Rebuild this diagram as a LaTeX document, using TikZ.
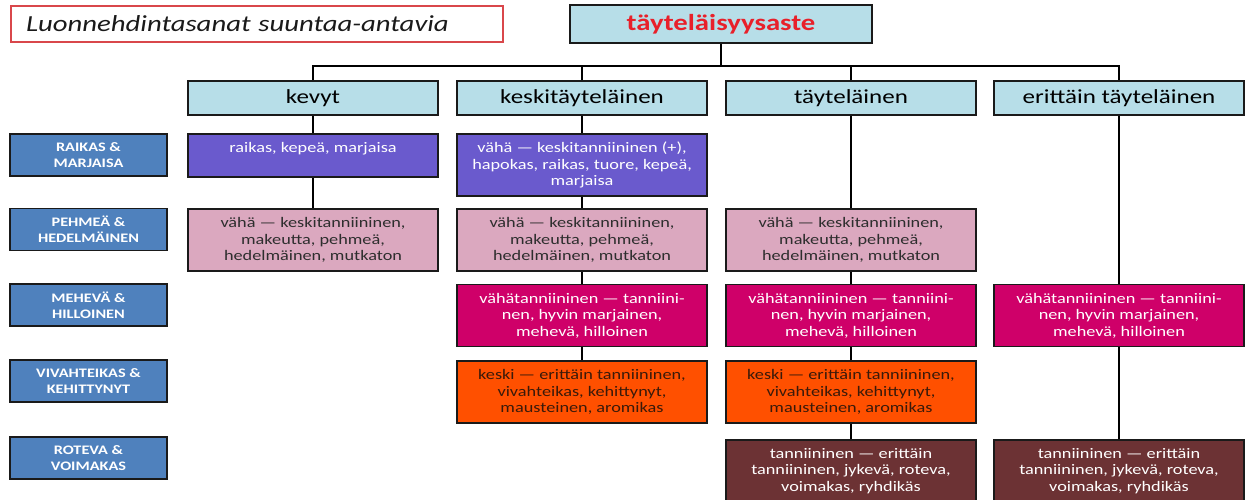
\documentclass[tikz,border=0pt]{standalone}
\usepackage{fontspec}
\setmainfont{Carlito}[FakeStretch=1.25]
\definecolor{hdrfill}{HTML}{B7DEE8}
\definecolor{boxline}{HTML}{1A1A1A}
\definecolor{cpurple}{HTML}{6A5ACD}
\definecolor{cpink}{HTML}{DBA8BF}
\definecolor{cmagenta}{HTML}{CF0069}
\definecolor{corange}{HTML}{FF5000}
\definecolor{cbrown}{HTML}{6C3234}
\definecolor{labblue}{HTML}{4F81BD}
\definecolor{rootred}{HTML}{E8202A}
\definecolor{titlered}{HTML}{D9474B}
\definecolor{darktxt}{HTML}{2E2E2E}
\definecolor{orangetxt}{HTML}{3A1A0A}
\tikzset{
  hdr/.style={draw=boxline, line width=1.6pt, fill=hdrfill, minimum width=250pt, minimum height=34pt, inner sep=0pt, font=\fontsize{20}{24}\selectfont},
  cell/.style={draw=boxline, line width=1.6pt, minimum width=250pt, minimum height=62pt, inner sep=0pt, align=center, font=\fontsize{14.6}{16.5}\selectfont},
  purplecell/.style={cell, fill=cpurple, text=white},
  pinkcell/.style={cell, fill=cpink, text=darktxt},
  magcell/.style={cell, fill=cmagenta, text=white},
  orangecell/.style={cell, fill=corange, text=orangetxt},
  browncell/.style={cell, fill=cbrown, text=white},
  lab/.style={draw=boxline, line width=1.6pt, fill=labblue, text=white, minimum width=157pt, minimum height=42pt, inner sep=0pt, align=center, font=\bfseries\fontsize{13}{16}\selectfont},
  conn/.style={line width=1.5pt, black},
}
\begin{document}
\begin{tikzpicture}[x=1pt, y=-1pt]
\useasboundingbox (0,0) rectangle (1249,499);
\clip (0,0) rectangle (1249,499);

% title
\node[draw=titlered, line width=1.1pt, minimum width=492pt, minimum height=36pt, text width=462pt, inner xsep=15pt, inner ysep=0pt, align=left, font=\itshape\fontsize{23}{27}\selectfont, text=boxline] (ttl) at (257,24) {Luonnehdintasanat suuntaa-antavia};

% root
\node[hdr, minimum width=302pt, minimum height=38pt, font=\bfseries\fontsize{23}{27}\selectfont, text=rootred] (root) at (721,24) {täyteläisyysaste};

\coordinate (bar) at (0,66);

% level 2
\node[hdr] (kevyt) at (313,98) {kevyt};
\node[hdr] (kesk) at (582,98) {keskitäyteläinen};
\node[hdr] (tayt) at (851,98) {täyteläinen};
\node[hdr] (erit) at (1119,98) {erittäin täyteläinen};

% row labels
\node[lab] (l1) at (88.5,155) {RAIKAS \&\\MARJAISA};
\node[lab] (l2) at (88.5,229.5) {PEHMEÄ \&\\HEDELMÄINEN};
\node[lab] (l3) at (88.5,305) {MEHEVÄ \&\\HILLOINEN};
\node[lab] (l4) at (88.5,381) {VIVAHTEIKAS \&\\KEHITTYNYT};
\node[lab] (l5) at (88.5,458) {ROTEVA \&\\VOIMAKAS};

% cells
\node[purplecell, minimum height=43pt] (c1r1) at (313,155.5) {raikas, kepeä, marjaisa\\\mbox{}};
\node[purplecell] (c2r1) at (582,165) {vähä — keskitanniininen (+),\\hapokas, raikas, tuore, kepeä,\\marjaisa};

\node[pinkcell] (c1r2) at (313,240) {vähä — keskitanniininen,\\makeutta, pehmeä,\\hedelmäinen, mutkaton};
\node[pinkcell] (c2r2) at (582,240) {vähä — keskitanniininen,\\makeutta, pehmeä,\\hedelmäinen, mutkaton};
\node[pinkcell] (c3r2) at (851,240) {vähä — keskitanniininen,\\makeutta, pehmeä,\\hedelmäinen, mutkaton};

\node[magcell] (c2r3) at (582,315.5) {vähätanniininen — tanniini-\\nen, hyvin marjainen,\\mehevä, hilloinen};
\node[magcell] (c3r3) at (851,315.5) {vähätanniininen — tanniini-\\nen, hyvin marjainen,\\mehevä, hilloinen};
\node[magcell] (c4r3) at (1119,315.5) {vähätanniininen — tanniini-\\nen, hyvin marjainen,\\mehevä, hilloinen};

\node[orangecell] (c2r4) at (582,392) {keski — erittäin tanniininen,\\vivahteikas, kehittynyt,\\mausteinen, aromikas};
\node[orangecell] (c3r4) at (851,392) {keski — erittäin tanniininen,\\vivahteikas, kehittynyt,\\mausteinen, aromikas};

\node[browncell] (c3r5) at (851,471) {tanniininen — erittäin\\tanniininen, jykevä, roteva,\\voimakas, ryhdikäs};
\node[browncell] (c4r5) at (1119,471) {tanniininen — erittäin\\tanniininen, jykevä, roteva,\\voimakas, ryhdikäs};

% tree connectors
\draw[conn] (root.south) -- (root.south |- bar);
\draw[conn] (kevyt.north) -- (kevyt.north |- bar) -- (erit.north |- bar) -- (erit.north);
\draw[conn] (kesk.north) -- (kesk.north |- bar);
\draw[conn] (tayt.north) -- (tayt.north |- bar);

% column connectors
\draw[conn] (kevyt.south) -- (c1r1.north);
\draw[conn] (c1r1.south) -- (c1r2.north);

\draw[conn] (kesk.south) -- (c2r1.north);
\draw[conn] (c2r1.south) -- (c2r2.north);
\draw[conn] (c2r2.south) -- (c2r3.north);
\draw[conn] (c2r3.south) -- (c2r4.north);

\draw[conn] (tayt.south) -- (c3r2.north);
\draw[conn] (c3r2.south) -- (c3r3.north);
\draw[conn] (c3r3.south) -- (c3r4.north);
\draw[conn] (c3r4.south) -- (c3r5.north);

\draw[conn] (erit.south) -- (c4r3.north);
\draw[conn] (c4r3.south) -- (c4r5.north);
\end{tikzpicture}
\end{document}
